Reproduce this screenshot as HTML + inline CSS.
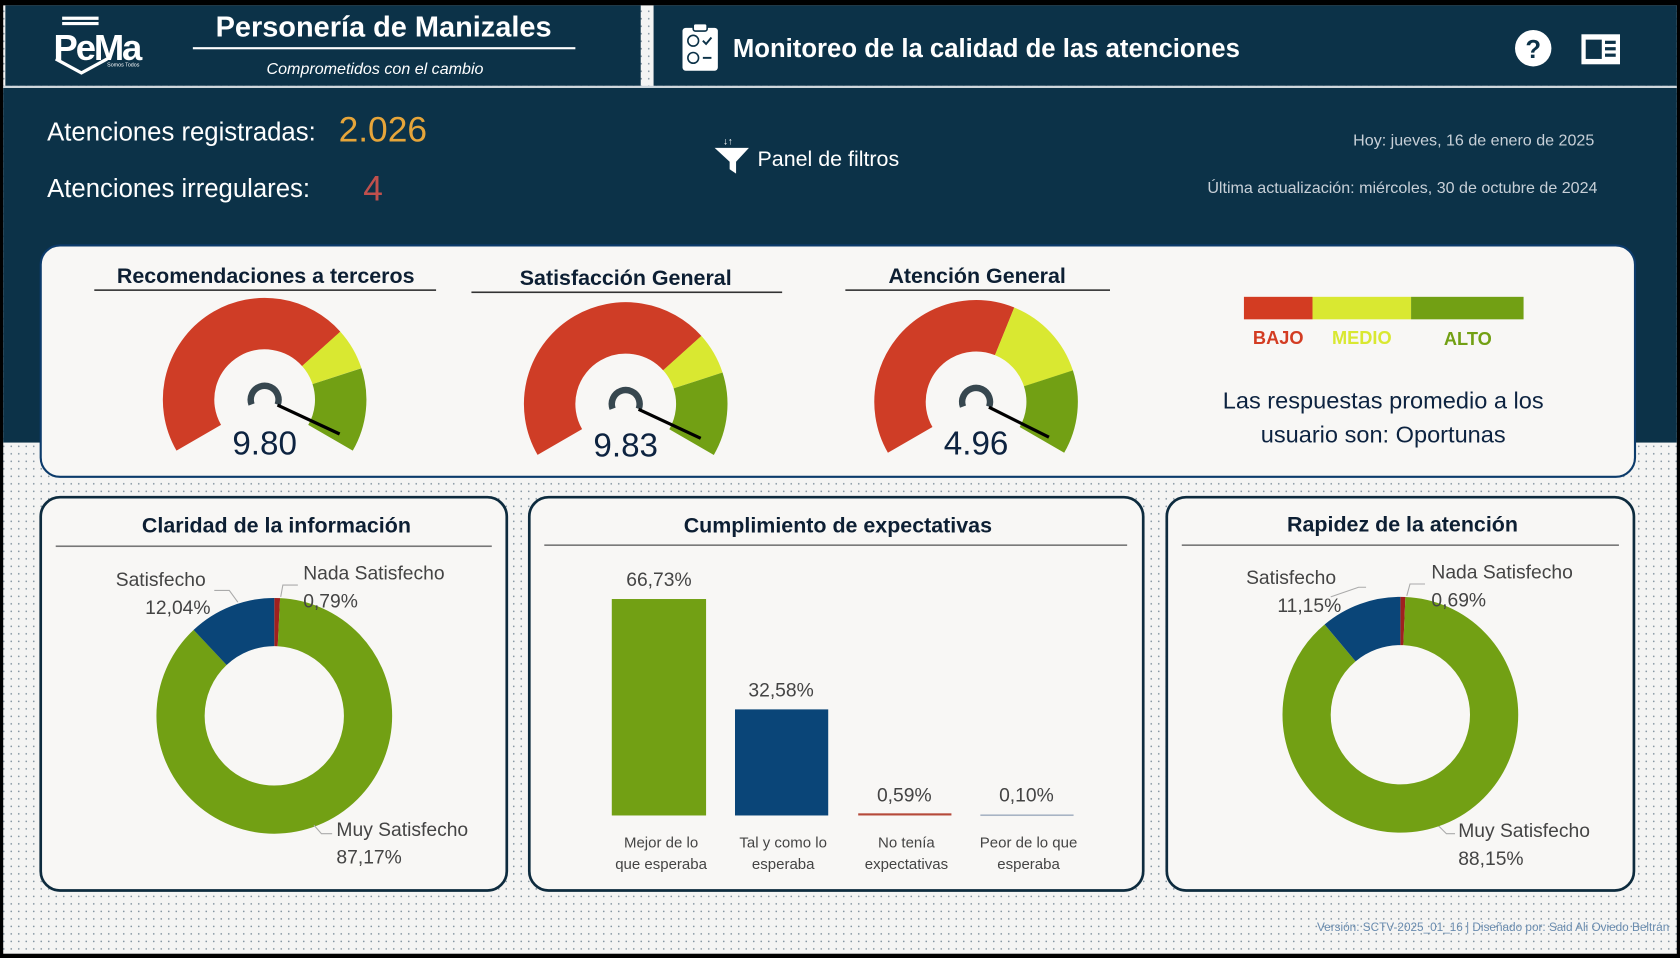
<!DOCTYPE html>
<html><head><meta charset="utf-8"><style>
html,body{margin:0;padding:0;width:1680px;height:958px;overflow:hidden;background:#000}
svg{display:block}
text{font-family:"Liberation Sans",sans-serif}
</style></head><body>
<svg width="1680" height="958" viewBox="0 0 1568 894" preserveAspectRatio="none" xmlns="http://www.w3.org/2000/svg">
<defs>
<pattern id="dots" width="7" height="7" patternUnits="userSpaceOnUse">
<rect width="7" height="7" fill="#f4f4f3"/><circle cx="3.5" cy="3.5" r="0.8" fill="#7d8f9c"/>
</pattern>
</defs>
<rect x="0" y="0" width="1568" height="894" fill="#000"/>
<rect x="3" y="5" width="1562" height="885" fill="url(#dots)"/>
<rect x="3" y="82" width="1562" height="331" fill="#0c3248"/>
<rect x="3" y="80" width="1562" height="2" fill="#d0d8de"/>
<rect x="5" y="5" width="593" height="75" fill="#0c3248"/>
<rect x="610" y="5" width="955" height="75" fill="#0c3248"/>

<g fill="none" stroke="#fff" stroke-width="3">
<line x1="58" y1="17" x2="92" y2="17"/><line x1="58" y1="22" x2="92" y2="22"/>
<polyline points="52,55 76,68 100,55"/>
</g>
<text x="50" y="56" font-size="34" fill="#fff" font-weight="bold" letter-spacing="-2">PeMa</text>
<text x="100" y="62" font-size="5" fill="#fff">Somos Todos</text>

<text x="358" y="34" font-size="27" fill="#fff" text-anchor="middle" font-weight="bold">Personería de Manizales</text>
<rect x="180" y="44" width="357" height="2" fill="#fff"/>
<text x="350" y="69" font-size="15" fill="#fff" text-anchor="middle" font-style="italic">Comprometidos con el cambio</text>

<rect x="637" y="26" width="33" height="40" rx="3" fill="#fff"/>
<rect x="647" y="22" width="13" height="7" rx="2" fill="#fff" stroke="#0c3248" stroke-width="1.5"/>
<circle cx="647" cy="38" r="5" fill="none" stroke="#0c3248" stroke-width="1.5"/>
<circle cx="647" cy="54" r="5" fill="none" stroke="#0c3248" stroke-width="1.5"/>
<polyline points="656,38 659,41 664,35" fill="none" stroke="#0c3248" stroke-width="1.8"/>
<line x1="656" y1="54" x2="664" y2="54" stroke="#0c3248" stroke-width="1.8"/>
<text x="684" y="53" font-size="24" fill="#fff" font-weight="bold">Monitoreo de la calidad de las atenciones</text>
<circle cx="1431" cy="45" r="17" fill="#fff"/>
<text x="1431" y="54" font-size="24" fill="#0c3248" text-anchor="middle" font-weight="bold">?</text>
<rect x="1476" y="32" width="36" height="28" fill="#fff"/>
<rect x="1480" y="37" width="15" height="18" fill="#0c3248"/>
<rect x="1498" y="38" width="10" height="3" fill="#0c3248"/><rect x="1498" y="44" width="10" height="3" fill="#0c3248"/><rect x="1498" y="50" width="10" height="3" fill="#0c3248"/>

<text x="44" y="131" font-size="24" fill="#fff">Atenciones registradas:</text>
<text x="316" y="132" font-size="33" fill="#e6a53a">2.026</text>
<text x="44" y="184" font-size="24" fill="#fff">Atenciones irregulares:</text>
<text x="339" y="187" font-size="33" fill="#c0504d">4</text>
<polygon points="667,138 699,138 687,151 687,162 681,158 681,151" fill="#fff"/>
<text x="675" y="135" font-size="9" fill="#fff" font-weight="bold">↓↑</text>
<text x="707" y="155" font-size="20" fill="#fff">Panel de filtros</text>
<text x="1488" y="136" font-size="15" fill="#c8d0d8" text-anchor="end">Hoy: jueves, 16 de enero de 2025</text>
<text x="1491" y="180" font-size="15" fill="#c8d0d8" text-anchor="end">Última actualización: miércoles, 30 de octubre de 2024</text>

<rect x="38" y="229" width="1488" height="216" rx="18" fill="#f8f7f5" stroke="#0c3b6b" stroke-width="2"/>

<g font-weight="bold" fill="#0d1f33" font-size="20" text-anchor="middle">
<text x="248" y="264">Recomendaciones a terceros</text>
<text x="584" y="266">Satisfacción General</text>
<text x="912" y="264">Atención General</text>
</g>
<rect x="88" y="270" width="319" height="1.5" fill="#333"/>
<rect x="440" y="272" width="290" height="1.5" fill="#333"/>
<rect x="789" y="270" width="247" height="1.5" fill="#333"/>

<g transform="translate(247,373)">
<circle r="71" fill="none" stroke="#cf3d26" stroke-width="48" stroke-dasharray="208.2 9999" transform="rotate(150)"/>
<circle r="71" fill="none" stroke="#d9e831" stroke-width="48" stroke-dasharray="29.7 9999" transform="rotate(318)"/>
<circle r="71" fill="none" stroke="#72a014" stroke-width="48" stroke-dasharray="59.5 9999" transform="rotate(342)"/>
<circle r="13" fill="none" stroke="#37474f" stroke-width="6" stroke-dasharray="50 32" transform="rotate(160)"/>
<line x1="12" y1="5" x2="70" y2="32" stroke="#000" stroke-width="3"/>
<text x="0" y="51" font-size="31" fill="#0d2340" text-anchor="middle">9.80</text>
</g>
<g transform="translate(584,377)">
<circle r="71" fill="none" stroke="#cf3d26" stroke-width="48" stroke-dasharray="208.2 9999" transform="rotate(150)"/>
<circle r="71" fill="none" stroke="#d9e831" stroke-width="48" stroke-dasharray="29.7 9999" transform="rotate(318)"/>
<circle r="71" fill="none" stroke="#72a014" stroke-width="48" stroke-dasharray="59.5 9999" transform="rotate(342)"/>
<circle r="13" fill="none" stroke="#37474f" stroke-width="6" stroke-dasharray="50 32" transform="rotate(160)"/>
<line x1="12" y1="5" x2="70" y2="32" stroke="#000" stroke-width="3"/>
<text x="0" y="49" font-size="31" fill="#0d2340" text-anchor="middle">9.83</text>
</g>
<g transform="translate(911,375)">
<circle r="71" fill="none" stroke="#cf3d26" stroke-width="48" stroke-dasharray="176 9999" transform="rotate(150)"/>
<circle r="71" fill="none" stroke="#d9e831" stroke-width="48" stroke-dasharray="62 9999" transform="rotate(292)"/>
<circle r="71" fill="none" stroke="#72a014" stroke-width="48" stroke-dasharray="59.5 9999" transform="rotate(342)"/>
<circle r="13" fill="none" stroke="#37474f" stroke-width="6" stroke-dasharray="50 32" transform="rotate(160)"/>
<line x1="12" y1="5" x2="68" y2="33" stroke="#000" stroke-width="3"/>
<text x="0" y="49" font-size="31" fill="#0d2340" text-anchor="middle">4.96</text>
</g>

<rect x="1161" y="277" width="64" height="21" fill="#d33c22"/>
<rect x="1225" y="277" width="92" height="21" fill="#d9e831"/>
<rect x="1317" y="277" width="105" height="21" fill="#72a014"/>
<g font-size="17" font-weight="bold" text-anchor="middle">
<text x="1193" y="321" fill="#d33c22">BAJO</text>
<text x="1271" y="321" fill="#d9e831">MEDIO</text>
<text x="1370" y="322" fill="#72a014">ALTO</text>
</g>
<text x="1291" y="381" font-size="22" fill="#0d2340" text-anchor="middle">Las respuestas promedio a los</text>
<text x="1291" y="413" font-size="22" fill="#0d2340" text-anchor="middle">usuario son: Oportunas</text>

<g fill="#f8f7f5" stroke="#0d2b3e" stroke-width="2.5">
<rect x="38" y="464" width="435" height="367" rx="18"/>
<rect x="494" y="464" width="573" height="367" rx="18"/>
<rect x="1089" y="464" width="436" height="367" rx="18"/>
</g>
<g font-weight="bold" fill="#0d1f33" font-size="20" text-anchor="middle">
<text x="258" y="497">Claridad de la información</text>
<text x="782" y="497">Cumplimiento de expectativas</text>
<text x="1309" y="496">Rapidez de la atención</text>
</g>
<rect x="52" y="509" width="407" height="1.5" fill="#777"/>
<rect x="508" y="508" width="544" height="1.5" fill="#777"/>
<rect x="1103" y="508" width="408" height="1.5" fill="#777"/>

<g transform="translate(256,668) rotate(-90)">
<circle r="87.5" fill="none" stroke="#a0201e" stroke-width="45" stroke-dasharray="4.34 600"/>
<circle r="87.5" fill="none" stroke="#72a014" stroke-width="45" stroke-dasharray="479.3 600" stroke-dashoffset="-4.34"/>
<circle r="87.5" fill="none" stroke="#0a4578" stroke-width="45" stroke-dasharray="66.2 600" stroke-dashoffset="-483.6"/>
</g>
<g fill="none" stroke="#aaa" stroke-width="1">
<polyline points="222,562 214,551 200,551"/>
<polyline points="262,557 264,546 278,546"/>
<polyline points="293,770 300,778 310,778"/>
<polyline points="1242,557 1268,548 1275,548"/>
<polyline points="1313,556 1316,545 1330,545"/>
<polyline points="1340,768 1350,778 1358,778"/>
</g>
<g font-size="18" fill="#444">
<text x="150" y="547" text-anchor="middle">Satisfecho</text>
<text x="166" y="573" text-anchor="middle">12,04%</text>
<text x="283" y="541">Nada Satisfecho</text>
<text x="283" y="567">0,79%</text>
<text x="314" y="780">Muy Satisfecho</text>
<text x="314" y="806">87,17%</text>
</g>

<g transform="translate(1307,667) rotate(-90)">
<circle r="87.5" fill="none" stroke="#a0201e" stroke-width="45" stroke-dasharray="3.79 600"/>
<circle r="87.5" fill="none" stroke="#72a014" stroke-width="45" stroke-dasharray="484.7 600" stroke-dashoffset="-3.79"/>
<circle r="87.5" fill="none" stroke="#0a4578" stroke-width="45" stroke-dasharray="61.3 600" stroke-dashoffset="-488.5"/>
</g>
<g font-size="18" fill="#444">
<text x="1205" y="545" text-anchor="middle">Satisfecho</text>
<text x="1222" y="571" text-anchor="middle">11,15%</text>
<text x="1336" y="540">Nada Satisfecho</text>
<text x="1336" y="566">0,69%</text>
<text x="1361" y="781">Muy Satisfecho</text>
<text x="1361" y="807">88,15%</text>
</g>

<rect x="571" y="559" width="88" height="202" fill="#72a014"/>
<rect x="686" y="662" width="87" height="99" fill="#0a4578"/>
<rect x="801" y="759" width="87" height="2" fill="#b5493a"/>
<rect x="915" y="760" width="87" height="1.5" fill="#a8b4c4"/>
<g font-size="18" fill="#444" text-anchor="middle">
<text x="615" y="547">66,73%</text>
<text x="729" y="650">32,58%</text>
<text x="844" y="748">0,59%</text>
<text x="958" y="748">0,10%</text>
</g>
<g font-size="14" fill="#444" text-anchor="middle">
<text x="617" y="791">Mejor de lo</text><text x="617" y="811">que esperaba</text>
<text x="731" y="791">Tal y como lo</text><text x="731" y="811">esperaba</text>
<text x="846" y="791">No tenía</text><text x="846" y="811">expectativas</text>
<text x="960" y="791">Peor de lo que</text><text x="960" y="811">esperaba</text>
</g>

<text x="1558" y="869" font-size="11" fill="#6a8caf" text-anchor="end">Versión: SCTV-2025_01_16 | Diseñado por: Said Ali Oviedo Beltrán</text>
</svg>
</body></html>
